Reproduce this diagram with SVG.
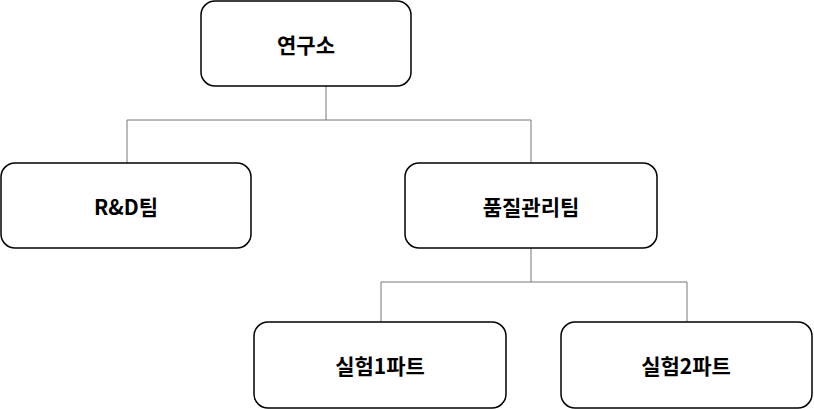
<svg xmlns="http://www.w3.org/2000/svg" width="814" height="409" viewBox="0 0 814 409">
<style>
.b{fill:#fff;stroke:#000;stroke-width:1.5}
.t{font-family:"Noto Sans CJK KR","Noto Sans",sans-serif;font-size:21px;font-weight:bold;text-anchor:middle;dominant-baseline:central}
.c{fill:none;stroke:#777;stroke-width:1}
</style>
<rect width="814" height="409" fill="#fff"/>
<g id="connectors">
<path class="c" d="M326,86V120M127,120H531M127,120V163M531,120V163"/>
<path class="c" d="M531,248V282M381,282H687M381,282V322M687,282V322"/>
</g>
<g id="n1"><rect class="b" x="201" y="1" width="210" height="85" rx="14"/><text class="t" x="306" y="44">연구소</text></g>
<g id="n2"><rect class="b" x="1" y="163" width="250" height="85" rx="14"/><text class="t" x="126" y="206">R&amp;D팀</text></g>
<g id="n3"><rect class="b" x="405" y="163" width="252" height="85" rx="14"/><text class="t" x="531" y="206">품질관리팀</text></g>
<g id="n4"><rect class="b" x="254" y="322" width="252" height="86" rx="14"/><text class="t" x="380" y="365">실험1파트</text></g>
<g id="n5"><rect class="b" x="561" y="322" width="251" height="86" rx="14"/><text class="t" x="686" y="365">실험2파트</text></g>
</svg>
